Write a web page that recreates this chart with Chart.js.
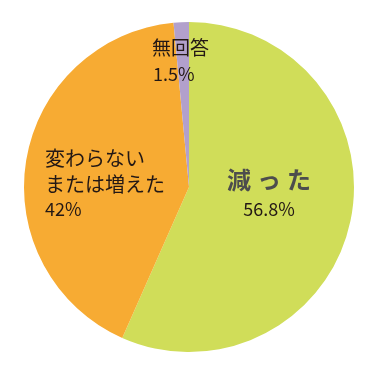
<!DOCTYPE html>
<html>
<head>
<meta charset="utf-8">
<script src="https://cdn.jsdelivr.net/npm/chart.js@4/dist/chart.umd.min.js"></script>
<style>
  html, body { margin: 0; padding: 0; background: #fff; }
  #wrap { width: 378px; height: 369px; }
</style>
</head>
<body>
<div id="wrap"><canvas id="pieChart" width="378" height="369"></canvas></div>
<script>
// Chart data
const labels = ['減った', '変わらない\nまたは増えた', '無回答'];
const values = [56.8, 42, 1.5];
const colors = ['#d0dd59', '#f7ab33', '#b2a0cc'];

const FONT = '"Noto Sans CJK JP", "Noto Sans", sans-serif';

// Draws the slice labels on top of the pie
const labelPlugin = {
    id: 'sliceLabels',
    afterDatasetsDraw(chart) {
        const ctx = chart.ctx;
        ctx.save();
        ctx.textBaseline = 'middle';
        ctx.fillStyle = '#231815';

        // 無回答
        ctx.textAlign = 'left';
        ctx.font = '19px ' + FONT;
        ctx.fillText(labels[2], 152, 48);
        ctx.font = '18px ' + FONT;
        ctx.fillText(values[2] + '%', 153, 74);

        // 変わらない / または増えた
        ctx.font = '20px ' + FONT;
        const lines = labels[1].split('\n');
        ctx.fillText(lines[0], 45, 158);
        ctx.fillText(lines[1], 45, 184);
        ctx.font = '18px ' + FONT;
        ctx.fillText(values[1] + '%', 45, 209);

        // 減った
        ctx.textAlign = 'center';
        ctx.fillStyle = '#4d4d4d';
        ctx.font = 'bold 24px ' + FONT;
        const chars = labels[0].split('');
        const gap = 30;
        chars.forEach((c, i) => {
            ctx.fillText(c, 269 + (i - 1) * gap, 180);
        });
        ctx.fillStyle = '#231815';
        ctx.font = '18px ' + FONT;
        ctx.fillText(values[0] + '%', 269, 209);
        ctx.restore();
    }
};

new Chart(document.getElementById('pieChart'), {
    type: 'pie',
    data: {
        labels: labels,
        datasets: [{
            data: values,
            backgroundColor: colors,
            borderWidth: 0
        }]
    },
    options: {
        responsive: false,
        animation: false,
        layout: {
            padding: { left: 24, right: 24, top: 22, bottom: 17 }
        },
        plugins: {
            legend: { display: false },
            tooltip: { enabled: false }
        }
    },
    plugins: [labelPlugin]
});
</script>
</body>
</html>
